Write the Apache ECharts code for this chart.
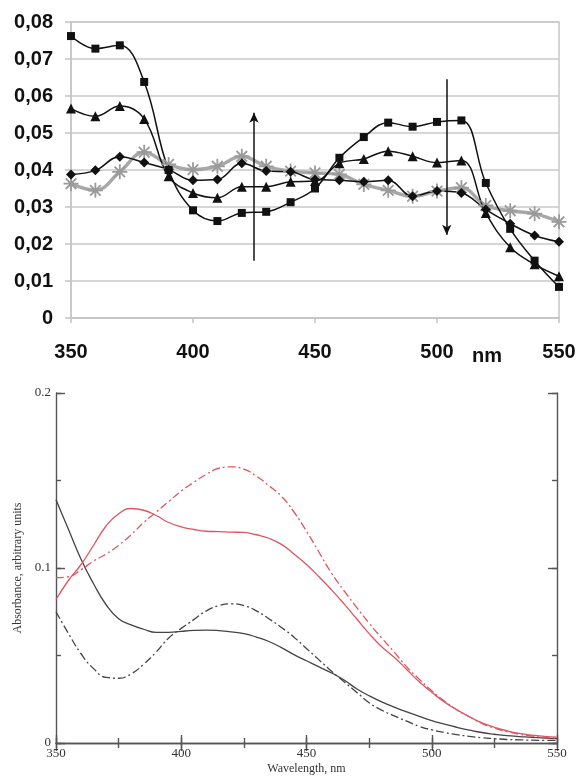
<!DOCTYPE html>
<html><head><meta charset="utf-8">
<script src="https://cdn.jsdelivr.net/npm/echarts/dist/echarts.min.js"></script>
<style>html,body{margin:0;padding:0;background:#fff}#c{width:580px;height:776px}</style>
</head><body><div id="c"></div>
<script>
// ---- Top chart data (nm, absorbance) ----
const topX = [350,360,370,380,390,400,410,420,430,440,450,460,470,480,490,500,510,520,530,540,550];
const squares = [0.0762,0.0728,0.0737,0.0638,0.0400,0.0291,0.0262,0.0284,0.0287,0.0313,0.0350,0.0433,0.0489,0.0528,0.0517,0.0530,0.0534,0.0365,0.0241,0.0155,0.0084];
const triangles = [0.0566,0.0545,0.0573,0.0538,0.0383,0.0338,0.0325,0.0355,0.0355,0.0368,0.0370,0.0418,0.0430,0.0451,0.0437,0.0420,0.0426,0.0284,0.0191,0.0145,0.0113];
const diamonds = [0.0388,0.0399,0.0436,0.0420,0.0401,0.0372,0.0374,0.0418,0.0397,0.0395,0.0374,0.0372,0.0368,0.0372,0.0329,0.0343,0.0338,0.0293,0.0255,0.0223,0.0206];
const stars = [0.0363,0.0345,0.0395,0.0448,0.0415,0.0401,0.0410,0.0437,0.0410,0.0397,0.0392,0.0388,0.0361,0.0345,0.0329,0.0343,0.0352,0.0304,0.0290,0.0282,0.0260];
// arrows: [nm, from, to]
const arrows = [[425, 0.0155, 0.0555], [504, 0.0645, 0.0225]];
const topYTicks = [0,0.01,0.02,0.03,0.04,0.05,0.06,0.07,0.08];

// ---- Bottom chart data ----
const botX = [];
for (let w = 350; w <= 550; w += 5) botX.push(w);
const redSolid = [0.0820,0.0930,0.1020,0.1130,0.1240,0.1310,0.1340,0.1330,0.1300,0.1260,0.1235,0.1220,0.1210,0.1208,0.1205,0.1203,0.1190,0.1170,0.1135,0.1080,0.1020,0.0950,0.0875,0.0795,0.0710,0.0625,0.0550,0.0490,0.0420,0.0350,0.0290,0.0235,0.0190,0.0150,0.0115,0.0090,0.0070,0.0055,0.0045,0.0038,0.0033];
const redDash = [0.0945,0.0950,0.0990,0.1040,0.1080,0.1130,0.1190,0.1260,0.1320,0.1380,0.1440,0.1490,0.1535,0.1570,0.1578,0.1565,0.1525,0.1470,0.1410,0.1320,0.1210,0.1090,0.0970,0.0870,0.0775,0.0685,0.0600,0.0520,0.0435,0.0365,0.0298,0.0240,0.0190,0.0150,0.0112,0.0085,0.0065,0.0050,0.0040,0.0032,0.0028];
const blackSolid = [0.1390,0.1220,0.1050,0.0910,0.0790,0.0710,0.0675,0.0650,0.0632,0.0632,0.0638,0.0643,0.0645,0.0642,0.0635,0.0625,0.0605,0.0580,0.0545,0.0505,0.0470,0.0435,0.0400,0.0360,0.0310,0.0270,0.0235,0.0205,0.0178,0.0152,0.0128,0.0108,0.0090,0.0074,0.0060,0.0050,0.0042,0.0037,0.0032,0.0028,0.0025];
const blackDash = [0.0750,0.0625,0.0510,0.0425,0.0375,0.0370,0.0395,0.0450,0.0520,0.0600,0.0655,0.0705,0.0755,0.0785,0.0795,0.0785,0.0755,0.0710,0.0660,0.0605,0.0540,0.0475,0.0410,0.0350,0.0290,0.0230,0.0188,0.0155,0.0125,0.0095,0.0075,0.0060,0.0048,0.0038,0.0030,0.0025,0.0020,0.0018,0.0016,0.0015,0.0015];

const pair = (xs, ys) => xs.map((x, i) => [x, ys[i]]);
const starPath = 'path://M0 8.8L20 8.8L20 11.2L0 11.2Z M8.8 0L11.2 0L11.2 20L8.8 20Z M3.78 2.08L17.92 16.22L16.22 17.92L2.08 3.78Z M2.08 16.22L16.22 2.08L17.92 3.78L3.78 17.92Z';

const boldFont = {fontFamily: '"Liberation Sans", Arial, sans-serif', fontWeight: 'bold', fontSize: 20, color: '#111'};
const serif = '"Liberation Serif", "DejaVu Serif", serif';
const frame = {color: '#555', width: 1.4};

function topLine(data, symbol, size) {
  return {
    type: 'line', xAxisIndex: 0, yAxisIndex: 0, data: data, smooth: 0.4,
    symbol: symbol, symbolSize: size,
    lineStyle: {color: '#111', width: 1.5}, itemStyle: {color: '#111'}
  };
}

const sq = topLine(pair(topX, squares), 'rect', 8);
sq.markLine = {
  silent: true, symbol: ['none', 'arrow'], symbolSize: [7, 10], animation: false,
  label: {show: false}, lineStyle: {color: '#111', width: 1.5, type: 'solid'},
  data: arrows.map(a => [{coord: [a[0], a[1]]}, {coord: [a[0], a[2]]}])
};

function botLine(data, color, type) {
  return {
    type: 'line', xAxisIndex: 1, yAxisIndex: 1, data: data, smooth: true,
    showSymbol: false, symbol: 'none',
    lineStyle: {color: color, width: 1.3, type: type}
  };
}

// frame axis for the lower panel (major ticks, inward)
function frameX(pos, labels) {
  return {gridIndex: 1, type: 'value', position: pos, min: 350, max: 550, interval: 50,
    axisLine: {show: true, lineStyle: frame},
    axisTick: {show: true, inside: true, length: 8, lineStyle: frame},
    splitLine: {show: false}, axisLabel: labels || {show: false}};
}
function frameY(pos, labels) {
  return {gridIndex: 1, type: 'value', position: pos, min: 0, max: 0.2, interval: 0.1,
    axisLine: {show: true, lineStyle: frame},
    axisTick: {show: true, inside: true, length: 9, lineStyle: frame},
    splitLine: {show: false}, axisLabel: labels || {show: false}};
}
// minor-tick axes (inward, shorter)
function minorX(pos) {
  return {gridIndex: 1, type: 'value', position: pos, min: 350, max: 550, interval: 25,
    axisLine: {show: false}, axisTick: {show: true, inside: true, length: 5, lineStyle: frame},
    splitLine: {show: false}, axisLabel: {show: false}};
}
function minorY(pos) {
  return {gridIndex: 1, type: 'value', position: pos, min: 0, max: 0.2, interval: 0.05,
    axisLine: {show: false}, axisTick: {show: true, inside: true, length: 5, lineStyle: frame},
    splitLine: {show: false}, axisLabel: {show: false}};
}

const xb = frameX('bottom', {fontFamily: serif, fontSize: 13, color: '#333', margin: 4});
xb.name = 'Wavelength, nm'; xb.nameLocation = 'middle'; xb.nameGap = 20;
xb.nameTextStyle = {fontFamily: serif, fontSize: 12, color: '#333'};
const yl = frameY('left', {fontFamily: serif, fontSize: 13, color: '#333', margin: 5,
                           formatter: v => String(+(+v).toFixed(1))});
yl.name = 'Absorbance, arbitrary units'; yl.nameLocation = 'middle'; yl.nameGap = 25; yl.nameRotate = 90;
yl.nameTextStyle = {fontFamily: serif, fontSize: 12, color: '#333'};

const chart = echarts.init(document.getElementById('c'), null, {renderer: 'canvas'});
chart.setOption({
  animation: false,
  backgroundColor: '#fff',
  grid: [
    {left: 71, top: 22, width: 488, height: 296, show: true, borderColor: '#c8c8c8', borderWidth: 1.5},
    {left: 56, top: 393, width: 501, height: 350}
  ],
  xAxis: [
    {gridIndex: 0, type: 'value', min: 350, max: 550, interval: 50,
     axisLine: {lineStyle: {color: '#c4c4c4', width: 1.5}},
     axisTick: {show: true, length: 5, lineStyle: {color: '#c4c4c4', width: 1.5}},
     splitLine: {show: false},
     axisLabel: Object.assign({margin: 24}, boldFont)},
    xb, frameX('top'), minorX('bottom'), minorX('top')
  ],
  yAxis: [
    {gridIndex: 0, type: 'value', min: 0, max: 0.08, interval: 0.01,
     axisLine: {show: true, lineStyle: {color: '#c4c4c4', width: 1.5}},
     axisTick: {show: true, length: 6, lineStyle: {color: '#c4c4c4', width: 1.5}},
     splitLine: {show: true, lineStyle: {color: '#c8c8c8', width: 1.5}},
     axisLabel: Object.assign({margin: 18, formatter: v => {
       const t = topYTicks.reduce((b, c) => Math.abs(c - v) < Math.abs(b - v) ? c : b);
       return t === 0 ? '0' : t.toFixed(2).replace('.', ',');
     }}, boldFont)},
    yl, frameY('right'), minorY('left'), minorY('right')
  ],
  graphic: [
    {type: 'text', left: 472, top: 346, style: {text: 'nm', font: 'bold 20px "Liberation Sans", Arial, sans-serif', fill: '#111'}}
  ],
  series: [
    {type: 'line', xAxisIndex: 0, yAxisIndex: 0, data: pair(topX, stars), smooth: 0.4,
     symbol: starPath, symbolSize: 15,
     lineStyle: {color: '#a8a8a8', width: 3.5}, itemStyle: {color: '#9a9a9a'}},
    topLine(pair(topX, diamonds), 'diamond', 10),
    topLine(pair(topX, triangles), 'triangle', 10),
    sq,
    botLine(pair(botX, blackDash), '#444', [8, 3, 2, 3]),
    botLine(pair(botX, blackSolid), '#444', 'solid'),
    botLine(pair(botX, redDash), '#e05560', [8, 3, 2, 3]),
    botLine(pair(botX, redSolid), '#e05560', 'solid')
  ]
});
</script></body></html>
